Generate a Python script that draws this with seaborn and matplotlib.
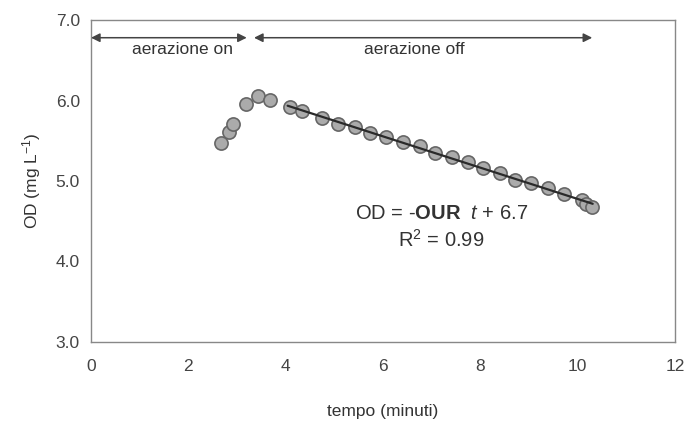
import numpy as np
import pandas as pd
import matplotlib
matplotlib.use("Agg")
import matplotlib.pyplot as plt
import seaborn as sns

# Dissolved oxygen readings: aeration phase and decay phase (aeration off)
t_on = [2.68, 2.83, 2.92, 3.18, 3.44, 3.68]
od_on = [5.47, 5.61, 5.71, 5.96, 6.06, 6.01]

t_off = [4.09, 4.33, 4.74, 5.08, 5.42, 5.73, 6.07, 6.41, 6.76, 7.06, 7.41,
         7.75, 8.06, 8.40, 8.71, 9.05, 9.39, 9.73, 10.08, 10.18, 10.29]
od_off = [5.92, 5.87, 5.78, 5.71, 5.67, 5.60, 5.55, 5.49, 5.43, 5.35, 5.30,
          5.24, 5.16, 5.10, 5.01, 4.97, 4.91, 4.84, 4.76, 4.72, 4.68]

phase_on_range = [0.0, 3.2]
phase_off_range = [3.35, 10.3]
phase_labels = ["aerazione on", "aerazione off"]

x_ticks = [0, 2, 4, 6, 8, 10, 12]
y_ticks = [3.0, 4.0, 5.0, 6.0, 7.0]

sns.set_theme(style="white")
plt.rcParams["font.family"] = ["Liberation Sans", "DejaVu Sans"]
plt.rcParams["mathtext.fontset"] = "custom"
plt.rcParams["mathtext.rm"] = "Liberation Sans"
plt.rcParams["mathtext.it"] = "Liberation Sans:italic"
plt.rcParams["mathtext.bf"] = "Liberation Sans:bold"

df = pd.DataFrame({"t": t_on + t_off, "od": od_on + od_off})

fig = plt.figure(figsize=(6.88, 4.23), dpi=100)
ax = fig.add_axes([0.1323, 0.1915, 0.8487, 0.7612])

# linear fit of the decay phase
slope, intercept = np.polyfit(t_off, od_off, 1)
fit = pd.DataFrame({"t": [t_off[0] - 0.05, t_off[-1] + 0.02]})
fit["od"] = slope * fit["t"] + intercept

sns.scatterplot(data=df, x="t", y="od", ax=ax, s=90, color="#ababab",
                edgecolor="#666666", linewidth=1.2, zorder=3)
sns.lineplot(data=fit, x="t", y="od", ax=ax, color="#2a2a2a", linewidth=1.6,
             zorder=4)

ax.set_xlim(0, 12)
ax.set_ylim(3.0, 7.0)
ax.set_xticks(x_ticks)
ax.set_xticklabels([str(v) for v in x_ticks])
ax.set_yticks(y_ticks)
ax.set_yticklabels([f"{v:.1f}" for v in y_ticks])
ax.set_xlabel("tempo (minuti)", fontsize=12.5, color="#333333", labelpad=22)
ax.set_ylabel("OD (mg L$^{-1}$)", fontsize=12.5, color="#333333", labelpad=9)

for sp in ax.spines.values():
    sp.set_color("#888888")
    sp.set_linewidth(1.0)
ax.tick_params(axis="both", direction="out", length=4, width=0.9,
               colors="#888888", labelcolor="#444444", labelsize=12.5)
ax.tick_params(axis="x", pad=8)
ax.tick_params(axis="y", pad=4)

# phase arrows
arrow_y = 6.78
arrowprops = dict(arrowstyle="<|-|>", color="#444444", lw=1.1,
                  mutation_scale=13, shrinkA=0, shrinkB=0)
ax.annotate("", xy=(phase_on_range[1], arrow_y), xytext=(phase_on_range[0], arrow_y),
            arrowprops=arrowprops)
ax.annotate("", xy=(phase_off_range[1], arrow_y), xytext=(phase_off_range[0], arrow_y),
            arrowprops=arrowprops)
ax.text(1.89, 6.63, phase_labels[0], ha="center", va="center", fontsize=12.5,
        color="#333333")
ax.text(6.65, 6.63, phase_labels[1], ha="center", va="center", fontsize=12.5,
        color="#333333")

ax.text(7.2, 4.6, r"OD = -$\mathbf{OUR}$  $t$ + 6.7", ha="center", va="center",
        fontsize=14.5, color="#333333")
ax.text(7.2, 4.27, r"R$^{2}$ = 0.99", ha="center", va="center",
        fontsize=14.5, color="#333333")

fig.savefig("out.png", dpi=100)
